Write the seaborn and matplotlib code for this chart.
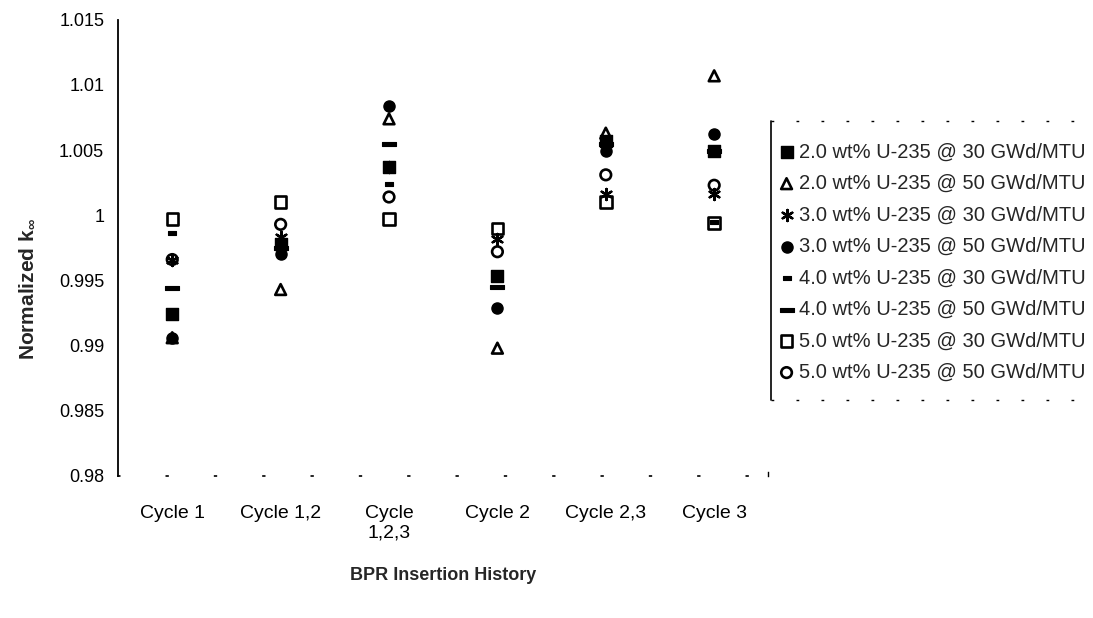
import numpy as np
import pandas as pd
import matplotlib
matplotlib.use("Agg")
import matplotlib.pyplot as plt
import seaborn as sns
from matplotlib.path import Path
from matplotlib.lines import Line2D

# ---------------- data ----------------
categories = ["Cycle 1", "Cycle 1,2", "Cycle\n1,2,3", "Cycle 2", "Cycle 2,3", "Cycle 3"]

series_labels = [
    "2.0 wt% U-235 @ 30 GWd/MTU",
    "2.0 wt% U-235 @ 50 GWd/MTU",
    "3.0 wt% U-235 @ 30 GWd/MTU",
    "3.0 wt% U-235 @ 50 GWd/MTU",
    "4.0 wt% U-235 @ 30 GWd/MTU",
    "4.0 wt% U-235 @ 50 GWd/MTU",
    "5.0 wt% U-235 @ 30 GWd/MTU",
    "5.0 wt% U-235 @ 50 GWd/MTU",
]

u20_30 = [0.9924, 0.9978, 1.0037, 0.9953, 1.0057, 1.0049]
u20_50 = [0.9906, 0.9943, 1.0074, 0.9898, 1.0063, 1.0107]
u30_30 = [0.9966, 0.9983, 1.0037, 0.9982, 1.0016, 1.0016]
u30_50 = [0.9906, 0.9970, 1.0084, 0.9929, 1.0049, 1.0062]
u40_30 = [0.9986, 0.9981, 1.0024, 0.9953, 1.0055, 0.9995]
u40_50 = [0.9944, 0.9975, 1.0055, 0.9945, 1.0055, 1.0049]
u50_30 = [0.9997, 1.0010, 0.9997, 0.9990, 1.0010, 0.9994]
u50_50 = [0.9966, 0.9993, 1.0014, 0.9972, 1.0031, 1.0023]

y_ticks = [0.98, 0.985, 0.99, 0.995, 1.0, 1.005, 1.01, 1.015]

all_series = [u20_30, u20_50, u30_30, u30_50, u40_30, u40_50, u50_30, u50_50]

# ---------------- styles ----------------
def rect_path(h):
    return Path([(-0.5, -h), (0.5, -h), (0.5, h), (-0.5, h), (-0.5, -h)], closed=True)

short_dash = rect_path(0.2)
long_dash = rect_path(0.12)

styles = [
    dict(marker="s", s=64, facecolor="black", lw=1.0),
    dict(marker="^", s=60, facecolor="none", lw=1.9),
    dict(marker=(6, 2, 0), s=64, facecolor=None, lw=1.7),
    dict(marker="o", s=64, facecolor="black", lw=1.0),
    dict(marker=short_dash, s=40, facecolor="black", lw=0.8),
    dict(marker=long_dash, s=110, facecolor="black", lw=0.8),
    dict(marker="s", s=68, facecolor="none", lw=1.9),
    dict(marker="o", s=58, facecolor="none", lw=1.9),
]

sns.set_theme(style="white")
plt.rcParams["font.family"] = ["Liberation Sans", "DejaVu Sans"]
plt.rcParams["mathtext.fontset"] = "custom"
plt.rcParams["mathtext.rm"] = "Liberation Sans:bold"
plt.rcParams["mathtext.it"] = "Liberation Sans:bold"
plt.rcParams["mathtext.bf"] = "Liberation Sans:bold"

fig = plt.figure(figsize=(10.93, 6.18), dpi=100)
fig.patch.set_facecolor("white")
ax = fig.add_axes([0.108, 0.23, 0.595, 0.738])
ax.set_facecolor("white")

xpos = np.arange(len(categories))
for lab, vals, st in zip(series_labels, all_series, styles):
    df = pd.DataFrame({"x": xpos, "k": vals})
    if st["facecolor"] is None:
        sns.scatterplot(data=df, x="x", y="k", ax=ax, marker=st["marker"], s=st["s"],
                        color="black", linewidth=st["lw"], label=lab, zorder=3)
    else:
        sns.scatterplot(data=df, x="x", y="k", ax=ax, marker=st["marker"], s=st["s"],
                        facecolor=st["facecolor"], edgecolor="black",
                        linewidth=st["lw"], label=lab, zorder=3)

ax.set_xlim(-0.5, 5.5)
ax.set_ylim(0.98, 1.015)
ax.set_xticks(xpos)
ax.set_xticklabels(categories, fontsize=14)
ax.set_yticks(y_ticks)
ax.set_yticklabels([f"{v:.3f}".rstrip("0").rstrip(".") for v in y_ticks], fontsize=13)
ax.tick_params(axis="x", length=0, pad=21, colors="black")
ax.tick_params(axis="y", direction="in", length=3, width=0.8, pad=10, colors="black")

ax.set_xlabel("BPR Insertion History", fontsize=13, fontweight="bold", labelpad=18)
ax.set_ylabel(r"Normalized k$_{\infty}$", fontsize=15, fontweight="bold")
ax.yaxis.set_label_coords(-0.125, 0.41)

ax.spines["top"].set_visible(False)
ax.spines["left"].set_color("black")
ax.spines["left"].set_linewidth(1.3)
ax.spines["bottom"].set_color("black")
ax.spines["bottom"].set_linewidth(1.2)
ax.spines["bottom"].set_linestyle((0, (1, 28)))
ax.spines["right"].set_color("black")
ax.spines["right"].set_linewidth(1.0)
ax.spines["right"].set_bounds(0.98, 0.9803)

handles, labels = ax.get_legend_handles_labels()
leg = ax.legend(handles, labels, loc="upper left", bbox_to_anchor=(1.014, 0.731),
                frameon=False, fontsize=14.5, labelspacing=0.62, handletextpad=0.15,
                handlelength=0.9, borderaxespad=0, borderpad=0)

fig.canvas.draw()
bb = leg.get_window_extent().transformed(fig.transFigure.inverted())
lx = bb.x0 - 0.006
ytop = bb.y1 + 0.035
ybot = bb.y0 - 0.03
fig.add_artist(Line2D([lx, lx], [ybot, ytop], transform=fig.transFigure,
                      color="black", lw=1.2))
for yy in (ytop, ybot):
    fig.add_artist(Line2D([lx, 0.995], [yy, yy], transform=fig.transFigure,
                          color="black", lw=1.0, linestyle=(0, (2, 16))))

fig.savefig("out.png", dpi=100, facecolor="white")
